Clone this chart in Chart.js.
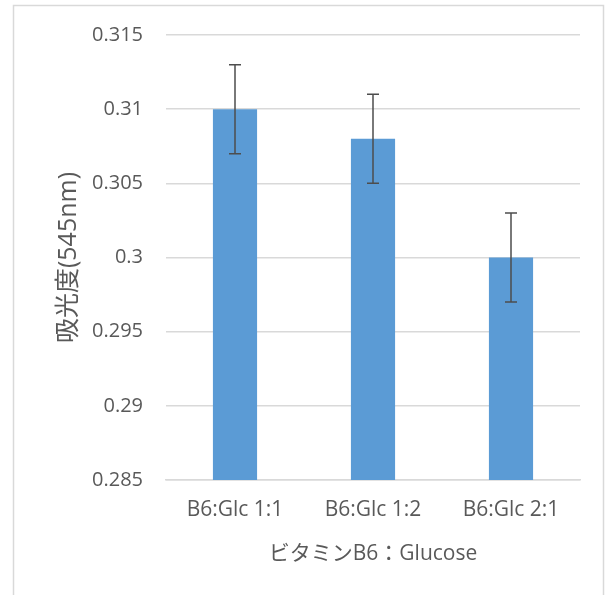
<!DOCTYPE html>
<html>
<head>
<meta charset="utf-8">
<script src="https://cdn.jsdelivr.net/npm/chart.js@4.4.0/dist/chart.umd.min.js"></script>
<style>
  html, body { margin: 0; padding: 0; background: #fff; }
  #wrap { width: 610px; height: 595px; position: relative; }
</style>
</head>
<body>
<div id="wrap"><canvas id="chart"></canvas></div>
<script>
var categories = ['B6:Glc 1:1', 'B6:Glc 1:2', 'B6:Glc 2:1'];
var absorbance = [0.310, 0.308, 0.300];
var errors = [0.003, 0.003, 0.003];
var yTicks = [0.285, 0.29, 0.295, 0.3, 0.305, 0.31, 0.315];

var fontName = "'Open Sans', 'Noto Sans CJK JP', sans-serif";
var grey = '#595959';

// frame around the whole chart + error bars
var extras = {
  id: 'extras',
  beforeDraw: function (chart) {
    var c = chart.ctx;
    c.save();
    c.strokeStyle = '#d9d9d9';
    c.lineWidth = 1.5;
    c.strokeRect(13.5, 5.5, 590, 600);
    c.restore();
  },
  afterDatasetsDraw: function (chart) {
    var c = chart.ctx;
    var meta = chart.getDatasetMeta(0);
    var ys = chart.scales.y;
    c.save();
    c.strokeStyle = '#4d4d4d';
    c.lineWidth = 1.5;
    meta.data.forEach(function (bar, i) {
      var top = ys.getPixelForValue(absorbance[i] + errors[i]);
      var bot = ys.getPixelForValue(absorbance[i] - errors[i]);
      c.beginPath();
      c.moveTo(bar.x, top); c.lineTo(bar.x, bot);
      c.moveTo(bar.x - 6, top); c.lineTo(bar.x + 6, top);
      c.moveTo(bar.x - 6, bot); c.lineTo(bar.x + 6, bot);
      c.stroke();
    });
    c.restore();
  }
};

new Chart(document.getElementById('chart'), {
  type: 'bar',
  data: {
    labels: categories,
    datasets: [{
      data: absorbance,
      backgroundColor: '#5b9bd5',
      barPercentage: 0.64,
      categoryPercentage: 0.5
    }]
  },
  options: {
    responsive: true,
    maintainAspectRatio: false,
    animation: false,
    layout: { padding: { left: 50, right: 30, top: 26, bottom: 24 } },
    plugins: { legend: { display: false }, tooltip: { enabled: false } },
    scales: {
      x: {
        grid: { display: false, drawTicks: false },
        border: { color: '#d9d9d9', width: 1.5 },
        ticks: { color: grey, font: { family: fontName, size: 21 }, padding: 17, maxRotation: 0 },
        title: { display: true, text: 'ビタミンB6：Glucose', color: grey, font: { family: fontName, size: 21 }, padding: { top: 2 } },
        afterFit: function (s) { s.height = 91; }
      },
      y: {
        min: 0.285,
        max: 0.315,
        afterBuildTicks: function (s) { s.ticks = yTicks.map(function (v) { return { value: v }; }); },
        grid: { color: '#d9d9d9', lineWidth: 1.5, drawTicks: false },
        border: { display: false },
        ticks: {
          color: grey, font: { family: fontName, size: 20 }, padding: 23,
          callback: function (v) { return String(+v.toFixed(3)); }
        },
        title: { display: true, text: '吸光度(545nm)', color: grey, font: { family: fontName, size: 25 } },
        afterFit: function (s) { s.width = 166 - 50; }
      }
    }
  },
  plugins: [extras]
});
</script>
</body>
</html>
